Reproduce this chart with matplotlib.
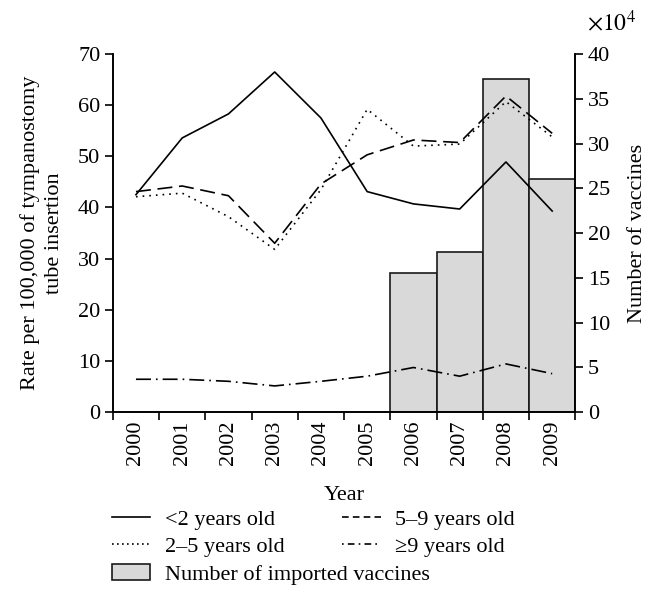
import matplotlib.pyplot as plt
from matplotlib.patches import Patch
from matplotlib.lines import Line2D

plt.rcParams['font.family'] = ['Liberation Serif', 'DejaVu Serif']
plt.rcParams['font.size'] = 16
plt.rcParams['mathtext.fontset'] = 'stix'

# data
years = ['2000', '2001', '2002', '2003', '2004', '2005', '2006', '2007', '2008', '2009']
under2 = [42.5, 53.6, 58.3, 66.5, 57.5, 43.1, 40.7, 39.7, 48.9, 39.3]
age2_5 = [42.1, 42.8, 38.2, 31.8, 43.5, 59.2, 52.0, 52.4, 60.7, 53.8]
age5_9 = [43.1, 44.2, 42.3, 33.0, 44.6, 50.3, 53.2, 52.7, 61.8, 54.5]
over9 = [6.4, 6.4, 6.0, 5.1, 6.0, 7.0, 8.7, 7.0, 9.4, 7.5]
vac_years = ['2006', '2007', '2008', '2009']
vaccines = [15.5, 17.9, 37.2, 26.0]  # x 10^4

x = list(range(len(years)))
vx = [years.index(y) for y in vac_years]

fig = plt.figure(figsize=(6.56, 6.01), dpi=100)
ax = fig.add_axes([0.172, 0.3145, 0.705, 0.5955])
ax2 = ax.twinx()

# bars on the right axis, lines drawn on top
ax2.bar(vx, vaccines, width=1.0, color='#d9d9d9', edgecolor='#1a1a1a', linewidth=1.2, zorder=1)
ax2.set_ylim(0, 40)
ax2.set_yticks(range(0, 41, 5))
ax2.set_ylabel('Number of vaccines', labelpad=13)

ax.set_zorder(ax2.get_zorder() + 1)
ax.patch.set_visible(False)
lw = 1.2
sty = {'u2': '-', 'a25': (0, (1, 3)), 'a59': (0, (9, 4)), 'o9': (0, (9, 3, 1, 3))}
ax.plot(x, under2, color='black', lw=lw, ls=sty['u2'])
ax.plot(x, age2_5, color='black', lw=lw, ls=sty['a25'])
ax.plot(x, age5_9, color='black', lw=lw, ls=sty['a59'])
ax.plot(x, over9, color='black', lw=lw, ls=sty['o9'])

ax.set_xlim(-0.5, 9.5)
ax.set_ylim(0, 70)
ax.set_yticks(range(0, 71, 10))
ax.set_xticks([i - 0.5 for i in range(11)])
ax.set_xticklabels([])
ax.set_xticks(x, minor=True)
ax.set_xticklabels(years, minor=True, rotation=90)
ax.tick_params(axis='x', which='minor', length=0, pad=6)
ax.tick_params(axis='x', which='major', length=6, width=1.2)
ax.tick_params(axis='y', length=6, width=1.2, pad=3)
ax2.tick_params(axis='y', length=6, width=1.2, pad=3)
ax.set_ylabel('Rate per 100,000 of tympanostomy\ntube insertion', labelpad=10, linespacing=1.35)
ax.set_xlabel('Year', labelpad=15)

for a in (ax, ax2):
    a.spines['top'].set_visible(False)
    for s in ('left', 'right', 'bottom'):
        a.spines[s].set_linewidth(1.2)

fig.text(0.895, 0.962, r'$\times10^4$', fontsize=17, ha='left', va='center')

leg_kw = dict(frameon=False, loc='upper left', handlelength=1.75, handletextpad=0.65,
              labelspacing=0.32, borderaxespad=0, borderpad=0)
h1 = [Line2D([], [], color='black', lw=lw, ls=sty['u2']),
      Line2D([], [], color='black', lw=lw, ls=(0, (1, 2))),
      Patch(facecolor='#d9d9d9', edgecolor='#1a1a1a', linewidth=1.2)]
l1 = ['<2 years old', '2–5 years old', 'Number of imported vaccines']
h2 = [Line2D([], [], color='black', lw=lw, ls=(0, (4, 2.5))),
      Line2D([], [], color='black', lw=lw, ls=(0, (1, 2.5, 4, 2.5)))]
l2 = ['5–9 years old', '≥9 years old']
fig.legend(h1, l1, bbox_to_anchor=(0.17, 0.153), **leg_kw)
fig.legend(h2, l2, bbox_to_anchor=(0.521, 0.153), **leg_kw)

plt.savefig('out.png', dpi=100)
